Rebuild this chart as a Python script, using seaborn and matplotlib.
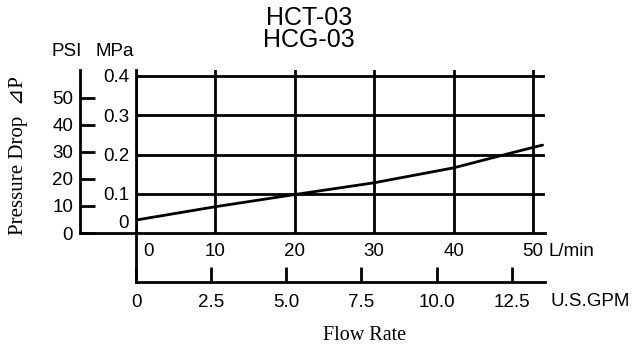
import matplotlib
matplotlib.use("Agg")
import matplotlib.pyplot as plt
import seaborn as sns
import numpy as np

# ---- data ----
flow_lpm = [0, 10, 20, 30, 40, 46.5, 50, 51.2]
pressure_mpa = [0.033, 0.067, 0.098, 0.128, 0.166, 0.200, 0.218, 0.224]

lpm_ticks = [0, 10, 20, 30, 40, 50]
mpa_ticks = [0.1, 0.2, 0.3, 0.4]
mpa_labels = ["0.1", "0.2", "0.3", "0.4"]
psi_ticks = [0, 10, 20, 30, 40, 50]
gpm_ticks = [0, 2.5, 5.0, 7.5, 10.0, 12.5]
gpm_labels = ["0", "2.5", "5.0", "7.5", "10.0", "12.5"]
titles = ["HCT-03", "HCG-03"]

MPA_TO_PSI = 145.04
GPM_TO_LPM = 3.7854

sns.set_style("white")
plt.rcParams["font.family"] = ["Liberation Sans", "DejaVu Sans"]
plt.rcParams["text.color"] = "black"
plt.rcParams["xtick.color"] = "black"
plt.rcParams["ytick.color"] = "black"
plt.rcParams["axes.edgecolor"] = "black"

W, H = 642, 350
fig = plt.figure(figsize=(W / 100, H / 100), dpi=100)

# layout in pixels
x0, x1 = 136, 545      # L/min axis left/right
y_top, y_bot = 70, 233  # grid area top / bottom
ax = fig.add_axes([x0 / W, 1 - y_bot / H, (x1 - x0) / W, (y_bot - y_top) / H])

px_per_lpm = 7.94
px_per_mpa = 392.5
xmax = (x1 - x0) / px_per_lpm
ymax = (y_bot - y_top) / px_per_mpa
ax.set_xlim(0, xmax)
ax.set_ylim(0, ymax)

LW = 2.0
fs = 13.5

# curve
sns.lineplot(x=flow_lpm, y=pressure_mpa, ax=ax, color="black", lw=2.0, zorder=5)

# grid from the ticks
ax.set_xticks(lpm_ticks)
ax.set_xticklabels([""] + [str(v) for v in lpm_ticks[1:]], fontsize=fs)
ax.set_yticks(mpa_ticks)
ax.set_yticklabels(mpa_labels, fontsize=fs)
ax.grid(True, color="black", lw=LW)
ax.tick_params(axis="x", length=0, pad=7)
ax.tick_params(axis="y", length=0, pad=5)

for s in ["top", "right"]:
    ax.spines[s].set_visible(False)

# secondary PSI axis (left)
psi_x_px = 80
psi_ax = ax.secondary_yaxis((psi_x_px - x0) / (x1 - x0),
                            functions=(lambda m: m * MPA_TO_PSI, lambda p: p / MPA_TO_PSI))
psi_ax.set_yticks(psi_ticks)
psi_ax.set_yticklabels([str(v) for v in psi_ticks], fontsize=fs)
psi_ax.tick_params(direction="in", length=10.5, width=LW, pad=5)
psi_ax.spines["left"].set_linewidth(LW)
psi_ax.spines["left"].set_color("black")

# secondary GPM axis (bottom)
gpm_y_px = 282
gpm_ax = ax.secondary_xaxis(-(gpm_y_px - y_bot) / (y_bot - y_top),
                            functions=(lambda l: l / GPM_TO_LPM, lambda g: g * GPM_TO_LPM))
gpm_ax.set_xticks(gpm_ticks)
gpm_ax.set_xticklabels(gpm_labels, fontsize=fs)
gpm_ax.tick_params(direction="in", length=11, width=LW, pad=8.5)
gpm_ax.spines["bottom"].set_linewidth(LW)
gpm_ax.spines["bottom"].set_color("black")

# main spines, extended to meet the secondary axes
ax.spines["left"].set_linewidth(LW)
ax.spines["bottom"].set_linewidth(LW)
ax.spines["left"].set_bounds(-(gpm_y_px - y_bot) / px_per_mpa, ymax)
ax.spines["bottom"].set_bounds(-(x0 - psi_x_px) / px_per_lpm, xmax)

# zero labels offset from the corner
ax.annotate("0", xy=(0, 0), xytext=(7, -19), textcoords="offset pixels",
            ha="left", va="center", fontsize=fs)
ax.annotate("0", xy=(0, 0), xytext=(-7, 10), textcoords="offset pixels",
            ha="right", va="center", fontsize=fs)

# unit labels
ax.annotate("L/min", xy=(xmax, 0), xytext=(4, -19), textcoords="offset pixels",
            ha="left", va="center", fontsize=fs)
ax.annotate("U.S.GPM", xy=(xmax, 0), xytext=(6, -69), textcoords="offset pixels",
            ha="left", va="center", fontsize=fs)
ax.annotate("MPa", xy=(0, ymax), xytext=(-21, 19), textcoords="offset pixels",
            ha="center", va="center", fontsize=fs)
ax.annotate("PSI", xy=(0, ymax), xytext=(-(x0 - psi_x_px) - 13, 19), textcoords="offset pixels",
            ha="center", va="center", fontsize=fs)

# titles (one two-line text)
fig.text(309 / W, 1 - 29 / H, "\n".join(titles), ha="center", va="center",
         fontsize=18, linespacing=0.85)

# axis titles (serif)
serif = ["Liberation Serif", "DejaVu Serif", "DejaVu Sans"]
fig.text(365 / W, 1 - 336 / H, "Flow Rate", ha="center", va="center",
         fontsize=14.5, family=serif)
fig.text(19 / W, 1 - 156 / H, "Pressure Drop  \u22bfP", ha="center", va="center",
         fontsize=15, rotation=90, family=serif)

fig.savefig("out.png", dpi=100, facecolor="white")
